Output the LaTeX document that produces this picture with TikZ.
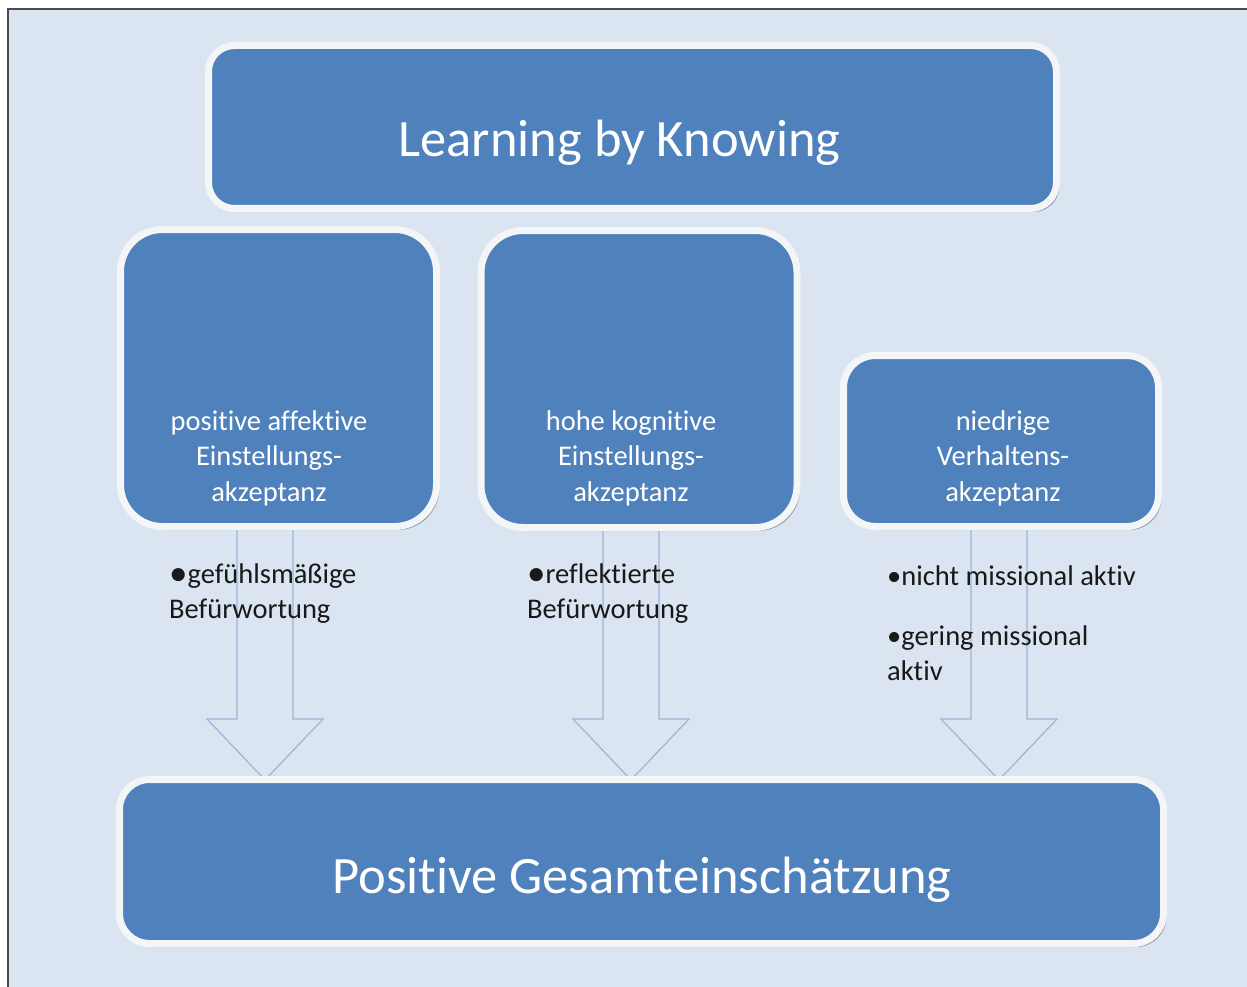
\documentclass[tikz,border=0pt]{standalone}
\usepackage{fontspec}
\setmainfont[Ligatures=NoCommon]{Carlito}
\usetikzlibrary{shadows}
\definecolor{pagebg}{HTML}{DBE5F1}
\definecolor{boxblue}{HTML}{4F81BD}
\definecolor{boxrim}{HTML}{F4F5F7}
\definecolor{rimshade}{HTML}{8794A8}
\definecolor{arrowline}{HTML}{9DB4D8}
\definecolor{framegray}{HTML}{4A4A4A}
\tikzset{
  bluebox/.style={draw=boxrim, line width=7pt, fill=boxblue, rounded corners=#1,
    inner sep=0pt, outer sep=0pt,
    drop shadow={shadow xshift=3pt, shadow yshift=-3.5pt, fill=rimshade, opacity=0.9}},
  boxtext/.style={text=white, font=\fontsize{28.5}{35.5}\selectfont, align=center, inner sep=0pt},
  bigtext/.style={text=white, font=\fontsize{52.5}{60}\selectfont, inner sep=0pt},
  notetext/.style={text=black!90, font=\fontsize{28.5}{35}\selectfont, align=left, inner sep=0pt},
  hollowarrow/.style={draw=arrowline, line width=1.2pt, line join=miter},
}
\newcommand{\bigbul}{\raisebox{-0.1em}{\scalebox{1.3}{•}}}
\begin{document}
\begin{tikzpicture}[x=1pt, y=-1pt]
  \useasboundingbox (0,0) rectangle (1247,987);
  % page and frame
  \fill[white] (0,0) rectangle (1247,987);
  \fill[pagebg] (8,9) rectangle (1247,987);
  \draw[framegray, line width=2pt] (8,987) -- (8,9) -- (1247,9);

  % hollow block arrows (behind the boxes)
  \foreach \cx/\nm in {265/la, 631/ma, 999/ra}{
    \draw[hollowarrow] (\cx-28,528) -- (\cx-28,719) -- (\cx-58,719) -- (\cx,780)
      -- (\cx+58,719) -- (\cx+28,719) -- (\cx+28,528);
  }

  % boxes
  \node[bluebox=26pt, minimum width=848pt, minimum height=163pt] (top) at (632.5,127) {};
  \node[bluebox=42pt, minimum width=316pt, minimum height=297pt] (left) at (278.5,378) {};
  \node[bluebox=42pt, minimum width=316pt, minimum height=297pt] (mid) at (639,379) {};
  \node[bluebox=32pt, minimum width=315pt, minimum height=171pt] (right) at (1001,441) {};
  \node[bluebox=30pt, minimum width=1044pt, minimum height=164pt] (bottom) at (641.5,861.5) {};

  % box texts (base anchor sits on the last line)
  \node[bigtext, anchor=base] (toptext) at (619.5,157) {Learning by Knowing};
  \node[boxtext, anchor=base] (lefttext) at (269,501) {positive affektive\\Einstellungs-\\akzeptanz};
  \node[boxtext, anchor=base] (midtext) at (631,501) {hohe kognitive\\Einstellungs-\\akzeptanz};
  \node[boxtext, anchor=base] (righttext) at (1003,501) {niedrige\\Verhaltens-\\akzeptanz};
  \node[bigtext, anchor=base] (bottomtext) at (642,893) {Positive Gesamteinschätzung};

  % notes beside the arrows
  \node[notetext, anchor=base west] (leftnote) at (169,618) {\bigbul gefühlsmäßige\\Befürwortung};
  \node[notetext, anchor=base west] (midnote) at (527,618) {\bigbul reflektierte\\Befürwortung};
  \node[notetext, anchor=base west] (rightnote1) at (887,585) {•nicht missional aktiv};
  \node[notetext, anchor=base west] (rightnote2) at (887,680) {•gering missional\\aktiv};
\end{tikzpicture}
\end{document}
